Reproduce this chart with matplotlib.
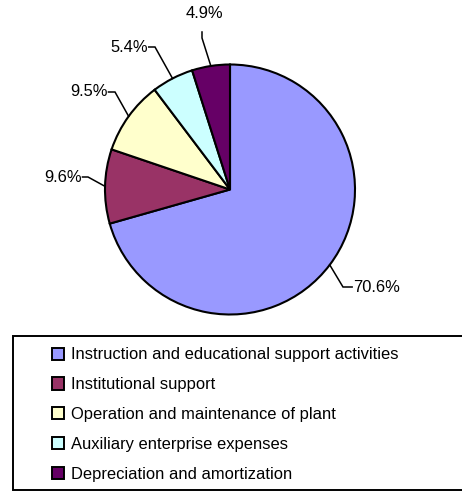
import matplotlib
matplotlib.use("Agg")
import matplotlib.pyplot as plt
from matplotlib.patches import Rectangle
import numpy as np

# ---- data ----
categories = [
    "Instruction and educational support activities",
    "Institutional support",
    "Operation and maintenance of plant",
    "Auxiliary enterprise expenses",
    "Depreciation and amortization",
]
values = [70.6, 9.6, 9.5, 5.4, 4.9]
pct_labels = ["70.6%", "9.6%", "9.5%", "5.4%", "4.9%"]
colors = ["#9999FF", "#993366", "#FFFFCC", "#CCFFFF", "#660066"]

plt.rcParams["font.family"] = ["Liberation Sans", "DejaVu Sans"]
FS = 11.9

W, H = 462, 492
fig = plt.figure(figsize=(W / 100, H / 100), dpi=100)
fig.patch.set_facecolor("white")

# pie axes: centre (230,189.5) px, radius 125 px
cx, cy, R = 230, 189.5, 125
ax = fig.add_axes([(cx - R) / W, 1 - (cy + R) / H, 2 * R / W, 2 * R / H])

wedges, _ = ax.pie(values, colors=colors, startangle=90, counterclock=False,
                   radius=1.0,
                   wedgeprops=dict(edgecolor="black", linewidth=1.5))
ax.set_xlim(-1, 1)
ax.set_ylim(-1, 1)
ax.set_aspect("equal")
ax.axis("off")
for w in wedges:
    w.set_clip_on(False)

# leader layout (in pie-radius units): elbow point, end point, label anchor
leaders = [
    dict(elbow=(0.904, -0.780), end=(0.977, -0.780), text=(0.984, -0.780), ha="left", va="center"),
    dict(elbow=(-1.136, 0.100), end=(-1.18, 0.100), text=(-1.184, 0.100), ha="right", va="center"),
    dict(elbow=(-0.920, 0.780), end=(-0.972, 0.780), text=(-0.976, 0.780), ha="right", va="center"),
    dict(elbow=(-0.600, 1.140), end=(-0.650, 1.140), text=(-0.656, 1.140), ha="right", va="center"),
    dict(elbow=(-0.224, 1.212), end=(-0.224, 1.260), text=(-0.208, 1.412), ha="center", va="center"),
]
for w, lab, ld in zip(wedges, pct_labels, leaders):
    mid = np.deg2rad((w.theta1 + w.theta2) / 2)
    ex, ey = 1.0 * np.cos(mid), 1.0 * np.sin(mid)
    xs = [ex, ld["elbow"][0], ld["end"][0]]
    ys = [ey, ld["elbow"][1], ld["end"][1]]
    ax.plot(xs, ys, color="black", lw=1.1, clip_on=False, solid_joinstyle="miter")
    ax.text(ld["text"][0], ld["text"][1], lab, ha=ld["ha"], va=ld["va"],
            fontsize=FS, color="black", clip_on=False)

# legend frame
x0, x1, y0, y1 = 13, 464, 336, 490
fig.add_artist(Rectangle((x0 / W, 1 - y1 / H), (x1 - x0) / W, (y1 - y0) / H,
                         transform=fig.transFigure, facecolor="white",
                         edgecolor="black", linewidth=1.4, zorder=0))

leg = fig.legend(wedges, categories, loc="upper left",
                 bbox_to_anchor=(52 / W, 1 - 347.5 / H),
                 frameon=False, borderpad=0, borderaxespad=0,
                 handlelength=0.73, handleheight=0.76, handletextpad=0.42,
                 labelspacing=0.895, fontsize=FS)
for h in leg.legend_handles:
    h.set_edgecolor("black")
    h.set_linewidth(1.4)

fig.savefig("out.png", dpi=100, facecolor="white")
